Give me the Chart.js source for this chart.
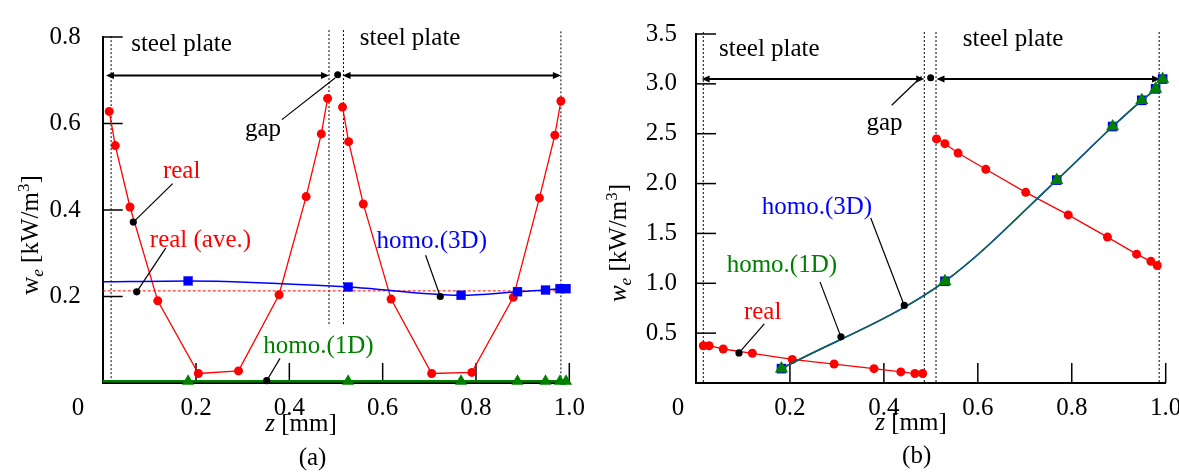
<!DOCTYPE html>
<html>
<head>
<meta charset="utf-8">
<title>Eddy-current loss density w_e across two steel plates</title>
<script src="https://cdn.jsdelivr.net/npm/chart.js@4.4.1/dist/chart.umd.min.js"></script>
<style>
  html, body { margin: 0; padding: 0; background: #fff; overflow: hidden; }
  #fig { position: relative; width: 1179px; height: 473px; overflow: hidden; }
  #fig canvas { position: absolute; top: 0; }
</style>
</head>
<body>
<div id="fig">
  <canvas id="panelA" width="600" height="473" style="left:0px"></canvas>
  <canvas id="panelB" width="600" height="473" style="left:600px"></canvas>
</div>
<script>
// ---------- shared axis ticks ----------
const xTickVals   = [0.2, 0.4, 0.6, 0.8, 1.0];
const xTickLabels = ['0.2', '0.4', '0.6', '0.8', '1.0'];
const yTickValsA   = [0.2, 0.4, 0.6, 0.8];
const yTickLabelsA = ['0.2', '0.4', '0.6', '0.8'];
const yTickValsB   = [0.5, 1.0, 1.5, 2.0, 2.5, 3.0, 3.5];
const yTickLabelsB = ['0.5', '1.0', '1.5', '2.0', '2.5', '3.0', '3.5'];

// ---------- panel (a) ----------
const zRealLeftA  = [0.014, 0.027, 0.0585, 0.118, 0.205, 0.291, 0.378, 0.436, 0.4685, 0.482];
const wRealLeftA  = [0.628, 0.549, 0.407, 0.190, 0.022, 0.028, 0.204, 0.431, 0.576, 0.658];
const zRealRightA = [0.514, 0.527, 0.5585, 0.618, 0.705, 0.791, 0.880, 0.936, 0.969, 0.982];
const wRealRightA = [0.638, 0.558, 0.414, 0.194, 0.022, 0.0245, 0.198, 0.428, 0.573, 0.652];
const zAveA = [0, 1];
const wAveA = [0.213, 0.213];
const zHomoA  = [0, 0.183, 0.526, 0.768, 0.889, 0.949, 0.980, 0.993];
const w3dA    = [0.234, 0.236, 0.222, 0.203, 0.211, 0.215, 0.218, 0.218];
const w1dA    = [0.004, 0.004, 0.004, 0.004, 0.004, 0.004, 0.004, 0.004];

// ---------- panel (b) ----------
const zRealLeftB  = [0.0156, 0.028, 0.058, 0.120, 0.205, 0.294, 0.379, 0.436, 0.466, 0.4825];
const wRealLeftB  = [0.374, 0.374, 0.341, 0.298, 0.236, 0.190, 0.144, 0.111, 0.095, 0.095];
const zRealRightB = [0.512, 0.530, 0.558, 0.617, 0.702, 0.7925, 0.876, 0.938, 0.9685, 0.982];
const wRealRightB = [2.448, 2.400, 2.306, 2.143, 1.912, 1.686, 1.463, 1.292, 1.220, 1.178];
const zHomoB = [0.182, 0.530, 0.768, 0.887, 0.949, 0.9785, 0.9935];
const w3dB   = [0.144, 1.020, 2.035, 2.572, 2.835, 2.950, 3.048];
const w1dB   = [0.144, 1.020, 2.035, 2.572, 2.835, 2.950, 3.048];

const SERIF = "'Liberation Serif','Times New Roman',serif";
const FS = 25;
const RED = '#ff0000', BLUE = '#0000ff', GREEN = '#008000';

const pts = (zs, ws) => zs.map((z, i) => ({ x: z, y: ws[i] }));

// Draws a run of differently styled text pieces: [text, font, baselineShift]
function drawRich(ctx, parts, x, y, align) {
  let width = 0;
  parts.forEach(p => { ctx.font = p[1]; width += ctx.measureText(p[0]).width; });
  let cx = align === 'center' ? x - width / 2 : x;
  parts.forEach(p => {
    ctx.font = p[1];
    ctx.fillText(p[0], cx, y + (p[2] || 0));
    cx += ctx.measureText(p[0]).width;
  });
}

function arrowHead(ctx, xTip, y, dir) {
  ctx.beginPath();
  ctx.moveTo(xTip, y);
  ctx.lineTo(xTip - dir * 8, y - 3.5);
  ctx.lineTo(xTip - dir * 8, y + 3.5);
  ctx.closePath();
  ctx.fill();
}

// Plate boundaries, arrows, inward ticks, annotations and axis titles
const figurePlugin = {
  id: 'figureMarks',
  beforeDatasetsDraw(chart, args, o) {
    const { ctx, chartArea: ca } = chart;
    const sx = chart.scales.x, sy = chart.scales.y;
    const px = v => sx.getPixelForValue(v), py = v => sy.getPixelForValue(v);
    ctx.save();
    ctx.strokeStyle = '#000';
    ctx.fillStyle = '#000';
    // inward tick marks
    ctx.lineWidth = 1.5;
    xTickVals.forEach(v => {
      ctx.beginPath(); ctx.moveTo(px(v), ca.bottom); ctx.lineTo(px(v), ca.bottom - 20); ctx.stroke();
    });
    o.yTicks.forEach(v => {
      ctx.beginPath(); ctx.moveTo(ca.left, py(v)); ctx.lineTo(ca.left + 20, py(v)); ctx.stroke();
    });
    // dotted plate boundaries
    ctx.lineWidth = 1;
    ctx.setLineDash([2, 2]);
    o.bounds.forEach(b => {
      ctx.beginPath(); ctx.moveTo(px(b.z), py(b.top)); ctx.lineTo(px(b.z), py(b.bottom)); ctx.stroke();
    });
    ctx.setLineDash([]);
    // plate thickness arrows
    ctx.lineWidth = 2;
    o.arrows.forEach(a => {
      const y = py(a.w), x1 = px(a.z1), x2 = px(a.z2);
      ctx.beginPath(); ctx.moveTo(x1 + 4, y); ctx.lineTo(x2 - 4, y); ctx.stroke();
      arrowHead(ctx, x1, y, -1);
      arrowHead(ctx, x2, y, 1);
    });
    ctx.beginPath(); ctx.arc(px(o.gapDot.z), py(o.gapDot.w), 3.5, 0, Math.PI * 2); ctx.fill();
    ctx.restore();
  },
  afterDatasetsDraw(chart, args, o) {
    const { ctx } = chart;
    const sx = chart.scales.x, sy = chart.scales.y;
    const px = v => sx.getPixelForValue(v), py = v => sy.getPixelForValue(v);
    ctx.save();
    // leader lines with end dots
    ctx.strokeStyle = '#000';
    ctx.fillStyle = '#000';
    ctx.lineWidth = 1.2;
    o.leaders.forEach(l => {
      ctx.beginPath(); ctx.moveTo(px(l.z1), py(l.w1)); ctx.lineTo(px(l.z2), py(l.w2)); ctx.stroke();
      if (l.dot) { ctx.beginPath(); ctx.arc(px(l.z2), py(l.w2), 3.6, 0, Math.PI * 2); ctx.fill(); }
    });
    // labels
    ctx.textBaseline = 'alphabetic';
    ctx.textAlign = 'left';
    ctx.font = FS + 'px ' + SERIF;
    o.texts.forEach(t => {
      ctx.fillStyle = t.color;
      ctx.fillText(t.text, px(t.z), py(t.w));
    });
    ctx.restore();
  },
  afterDraw(chart, args, o) {
    const { ctx, chartArea: ca } = chart;
    ctx.save();
    ctx.fillStyle = '#000';
    // shared origin label
    ctx.font = FS + 'px ' + SERIF;
    ctx.textAlign = 'center';
    ctx.textBaseline = 'middle';
    ctx.fillText('0', ca.left + o.originDx, ca.bottom + 10 + FS * 0.6);
    // x-axis title and panel tag
    ctx.textAlign = 'left';
    ctx.textBaseline = 'alphabetic';
    drawRich(ctx, [['z', 'italic ' + FS + 'px ' + SERIF], [' [mm]', FS + 'px ' + SERIF]], o.xTitle.x, o.xTitle.y, 'center');
    drawRich(ctx, [[o.tag.text, FS + 'px ' + SERIF]], o.tag.x, o.tag.y, 'center');
    // y-axis title
    ctx.translate(o.yTitle.x, o.yTitle.y);
    ctx.rotate(-Math.PI / 2);
    drawRich(ctx, [
      ['w', (o.yTitle.italic ? 'italic ' : '') + FS + 'px ' + SERIF],
      ['e', 'italic 17px ' + SERIF, 5],
      [' [kW/m', FS + 'px ' + SERIF],
      ['3', '17px ' + SERIF, -9],
      [']', FS + 'px ' + SERIF]
    ], 0, 0, 'center');
    ctx.restore();
  }
};

function lineSet(data, color, width, extra) {
  return Object.assign({
    data, borderColor: color, borderWidth: width, backgroundColor: color,
    pointBackgroundColor: color, pointBorderWidth: 0, pointRadius: 4.5, pointStyle: 'circle',
    fill: false, tension: 0, clip: false
  }, extra || {});
}

function makePanel(id, cfg) {
  return new Chart(document.getElementById(id), {
    type: 'line',
    data: { datasets: cfg.datasets },
    options: {
      responsive: false, animation: false, devicePixelRatio: 1,
      layout: { padding: { left: 0, top: cfg.padTop, right: cfg.padRight, bottom: 0 } },
      plugins: { legend: { display: false }, tooltip: { enabled: false }, figureMarks: cfg.marks },
      scales: {
        x: {
          type: 'linear', min: 0, max: 1,
          grid: { display: false, drawTicks: false },
          border: { display: true, color: '#000', width: 2 },
          afterBuildTicks: s => { s.ticks = xTickVals.map(v => ({ value: v })); },
          afterFit: s => { s.height = 90; },
          ticks: {
            callback: (v, i) => xTickLabels[i], font: { family: SERIF, size: FS }, color: '#000',
            padding: 10, maxRotation: 0, autoSkip: false
          }
        },
        y: {
          type: 'linear', min: 0, max: cfg.yMax,
          grid: { display: false, drawTicks: false },
          border: { display: true, color: '#000', width: 2 },
          afterBuildTicks: s => { s.ticks = cfg.yTicks.map(v => ({ value: v })); },
          afterFit: s => { s.width = cfg.axisLeft; },
          ticks: {
            callback: (v, i) => cfg.yLabels[i], font: { family: SERIF, size: FS }, color: '#000',
            padding: cfg.yPad, autoSkip: false
          }
        }
      }
    },
    plugins: [figurePlugin]
  });
}

const markerFromSecond = r => ctx => (ctx.dataIndex === 0 ? 0 : r);

// (a) distribution in the plates
makePanel('panelA', {
  padTop: 34, padRight: 600 - 569.3, axisLeft: 102.7, yMax: 0.8, yPad: 22,
  yTicks: yTickValsA, yLabels: yTickLabelsA,
  datasets: [
    lineSet(pts(zHomoA, w1dA), GREEN, 2.5, { pointStyle: 'triangle', pointRadius: markerFromSecond(7), cubicInterpolationMode: 'monotone' }),
    lineSet(pts(zHomoA, w3dA), BLUE, 1.5, { pointStyle: 'rect', pointRadius: markerFromSecond(6.6), cubicInterpolationMode: 'monotone' }),
    lineSet(pts(zRealLeftA, wRealLeftA), RED, 1.3),
    lineSet(pts(zRealRightA, wRealRightA), RED, 1.3),
    lineSet(pts(zAveA, wAveA), RED, 1, { pointRadius: 0, borderDash: [3, 2] })
  ],
  marks: {
    yTicks: yTickValsA,
    bounds: [
      { z: 0.018, top: 0.802, bottom: 0 }, { z: 0.485, top: 0.816, bottom: 0.133 },
      { z: 0.516, top: 0.816, bottom: 0.133 }, { z: 0.982, top: 0.813, bottom: 0 }
    ],
    arrows: [{ z1: 0.007, z2: 0.485, w: 0.711 }, { z1: 0.514, z2: 0.982, w: 0.711 }],
    gapDot: { z: 0.5036, w: 0.7125 },
    leaders: [
      { z1: 0.384, w1: 0.609, z2: 0.498, w2: 0.705, dot: false },
      { z1: 0.150, w1: 0.461, z2: 0.0656, w2: 0.372, dot: true },
      { z1: 0.135, w1: 0.312, z2: 0.0729, w2: 0.2108, dot: true },
      { z1: 0.692, w1: 0.2955, z2: 0.7235, w2: 0.200, dot: true },
      { z1: 0.380, w1: 0.057, z2: 0.3515, w2: 0.0053, dot: true }
    ],
    texts: [
      { text: 'steel plate', z: 0.061, w: 0.768, color: '#000' },
      { text: 'steel plate', z: 0.551, w: 0.782, color: '#000' },
      { text: 'gap', z: 0.305, w: 0.570, color: '#000' },
      { text: 'real', z: 0.129, w: 0.475, color: RED },
      { text: 'real (ave.)', z: 0.101, w: 0.3146, color: RED },
      { text: 'homo.(3D)', z: 0.587, w: 0.312, color: BLUE },
      { text: 'homo.(1D)', z: 0.344, w: 0.0694, color: GREEN }
    ],
    originDx: -24.7,
    xTitle: { x: 301, y: 431 },
    tag: { text: '(a)', x: 312.5, y: 465 },
    yTitle: { x: 38, y: 235, italic: false }
  }
});

// (b) distribution in the plates
makePanel('panelB', {
  padTop: 27.4, padRight: 600 - 565.7, axisLeft: 96, yMax: 3.5, yPad: 19,
  yTicks: yTickValsB, yLabels: yTickLabelsB,
  datasets: [
    lineSet(pts(zHomoB, w1dB), '#0a6a50', 1.5, { pointStyle: 'triangle', pointRadius: 7.6, pointBackgroundColor: GREEN, cubicInterpolationMode: 'monotone' }),
    lineSet(pts(zHomoB, w3dB), BLUE, 1.5, { pointStyle: 'rect', pointRadius: 6.8, cubicInterpolationMode: 'monotone' }),
    lineSet(pts(zRealLeftB, wRealLeftB), RED, 1.3),
    lineSet(pts(zRealRightB, wRealRightB), RED, 1.3)
  ],
  marks: {
    yTicks: yTickValsB,
    bounds: [
      { z: 0.0155, top: 3.52, bottom: 0 }, { z: 0.486, top: 3.52, bottom: 0 },
      { z: 0.511, top: 3.52, bottom: 0 }, { z: 0.986, top: 3.52, bottom: 0 }
    ],
    arrows: [{ z1: 0.012, z2: 0.486, w: 3.048 }, { z1: 0.512, z2: 0.988, w: 3.048 }],
    gapDot: { z: 0.4996, w: 3.061 },
    leaders: [
      { z1: 0.4166, w1: 2.785, z2: 0.4804, w2: 3.074, dot: false },
      { z1: 0.372, w1: 1.654, z2: 0.4434, w2: 0.7776, dot: true },
      { z1: 0.264, w1: 1.014, z2: 0.3086, w2: 0.4626, dot: true },
      { z1: 0.1454, w1: 0.5935, z2: 0.0915, w2: 0.302, dot: true }
    ],
    texts: [
      { text: 'steel plate', z: 0.049, w: 3.284, color: '#000' },
      { text: 'steel plate', z: 0.568, w: 3.376, color: '#000' },
      { text: 'gap', z: 0.363, w: 2.539, color: '#000' },
      { text: 'homo.(3D)', z: 0.140, w: 1.696, color: BLUE },
      { text: 'homo.(1D)', z: 0.0653, w: 1.112, color: GREEN },
      { text: 'real', z: 0.102, w: 0.646, color: RED }
    ],
    originDx: -18,
    xTitle: { x: 311, y: 430 },
    tag: { text: '(b)', x: 316.7, y: 463 },
    yTitle: { x: 26, y: 243, italic: true }
  }
});
</script>
</body>
</html>
